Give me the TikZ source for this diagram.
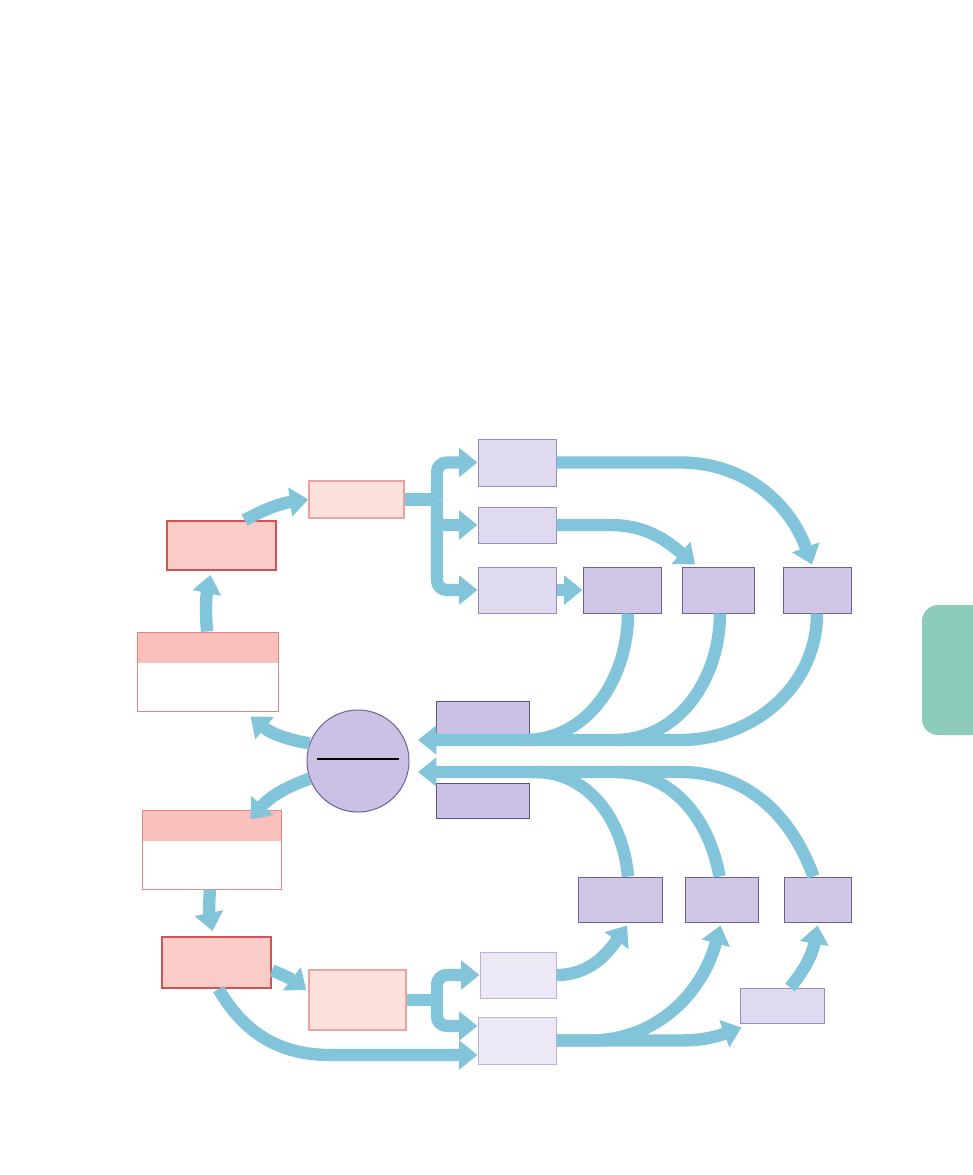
\documentclass[tikz,border=0pt]{standalone}
\usepackage{tikz}
\usepackage{xcolor}
\usetikzlibrary{arrows.meta,positioning,calc}
\definecolor{FlowBlue}{HTML}{82C4DA}
\definecolor{HeadFill}{HTML}{F9C0BC}
\definecolor{HeadEdge}{HTML}{E08880}
\definecolor{CycleFill}{HTML}{F9CCC8}
\definecolor{CycleEdge}{HTML}{D05454}
\definecolor{SoftFill}{HTML}{FCE0DC}
\definecolor{SoftEdge}{HTML}{E8A49C}
\definecolor{LavLight}{HTML}{E0DAF0}
\definecolor{LavLightEdge}{HTML}{9C8CBC}
\definecolor{LavMid}{HTML}{D0C6E6}
\definecolor{LavMidEdge}{HTML}{6E5E92}
\definecolor{LavDark}{HTML}{CBC1E5}
\definecolor{LavDarkEdge}{HTML}{5E4E86}
\definecolor{LavPale}{HTML}{ECE8F6}
\definecolor{LavPaleEdge}{HTML}{BDB2D6}
\definecolor{TabGreen}{HTML}{8DCBBB}

\begin{document}
\begin{tikzpicture}[x=0.025cm, y=0.025cm,
  box/.style={rectangle, inner sep=0pt, line width=0.7pt},
  headbox/.style={box, draw=HeadEdge, fill=white, minimum height=1.975cm,
                  path picture={\fill[HeadFill] (path picture bounding box.north west)
                    rectangle ([yshift=-0.775cm]path picture bounding box.north east);}},
  cyclebox/.style={box, draw=CycleEdge, fill=CycleFill, line width=1.4pt},
  softbox/.style={box, draw=SoftEdge, fill=SoftFill, line width=1pt},
  lightbox/.style={box, draw=LavLightEdge, fill=LavLight},
  midbox/.style={box, draw=LavMidEdge, fill=LavMid, minimum height=1.15cm},
  darkbox/.style={box, draw=LavDarkEdge, fill=LavDark, minimum width=2.325cm},
  palebox/.style={box, draw=LavPaleEdge, fill=LavPale},
  flowline/.style={draw=FlowBlue, line width=8.8pt},
  flow/.style={flowline, -{Triangle[length=13pt,width=20pt]}}
]
  \useasboundingbox (0,0) rectangle (972,-1175);
  \fill[TabGreen, rounded corners=0.4cm] (922,-605) rectangle (1000,-735);

  % upper cycle
  \node[headbox, minimum width=3.5cm] (l1) at (208,-671.5) {};
  \node[cyclebox, minimum width=2.725cm, minimum height=1.225cm] (b1) at (221.5,-545.5) {};
  \node[softbox, minimum width=2.375cm, minimum height=0.925cm] (c1) at (356.5,-499.5) {};
  \node[lightbox, minimum width=1.95cm, minimum height=1.175cm] (d1) at (517,-462.5) {};
  \node[lightbox, minimum width=1.95cm, minimum height=0.9cm] (d2) at (517,-525) {};
  \node[lightbox, minimum width=1.95cm, minimum height=1.15cm] (d3) at (517,-590) {};
  \node[midbox, minimum width=1.95cm] (e1) at (622,-590) {};
  \node[midbox, minimum width=1.8cm] (e2) at (718,-590) {};
  \node[midbox, minimum width=1.7cm] (e3) at (817,-590) {};

  % hub
  \node[circle, draw=LavMidEdge, fill=LavDark, line width=0.7pt, minimum size=2.55cm,
        inner sep=0pt] (hub) at (358,-761) {};
  \draw[line width=0.8pt] ($(hub.center)+(-41,2)$) -- ($(hub.center)+(41,2)$);
  \node[darkbox, minimum height=0.85cm] (f1) at (482.5,-718) {};
  \node[darkbox, minimum height=0.875cm] (f2) at (482.5,-800.5) {};

  % lower cycle
  \node[headbox, minimum width=3.45cm] (l2) at (212,-849.5) {};
  \node[cyclebox, minimum width=2.725cm, minimum height=1.275cm] (b2) at (216.5,-962.5) {};
  \node[softbox, minimum width=2.425cm, minimum height=1.5cm] (c2) at (357.5,-1000) {};
  \node[palebox, minimum width=1.9cm, minimum height=1.15cm] (g1) at (518,-975) {};
  \node[palebox, minimum width=1.95cm, minimum height=1.175cm] (g2) at (517,-1040.5) {};
  \node[midbox, minimum width=2.1cm, minimum height=1.125cm] (p1) at (620,-899.5) {};
  \node[midbox, minimum width=1.825cm, minimum height=1.125cm] (p2) at (721.5,-899.5) {};
  \node[midbox, minimum width=1.675cm, minimum height=1.125cm] (p3) at (817.5,-899.5) {};
  \node[lightbox, minimum width=2.1cm, minimum height=0.875cm] (h) at (782,-1005.5) {};

  \coordinate (split1) at (437,-499.5);
  \coordinate (split2) at (437,-1000);
  \coordinate (back1) at (418,-740);
  \coordinate (back2) at (418,-772);

  \draw[flow] ($(l1.north)+(-1,0)$) to[bend left=8] ($(b1.south)+(-11,-4)$);
  \draw[flow] ($(b1.north)+(23,0)$) to[bend left=10] (c1.west);
  \draw[flowline] (c1.east) -- (split1);
  \draw[flow, rounded corners=7pt] (split1) |- (d1.west);
  \draw[flow, rounded corners=7pt] (split1) |- (d3.west);
  \draw[flow] (split1 |- d2.west) -- (d2.west);
  \draw[flow] (d3.east) -- (e1.west);
  \draw[flow] (d2.east) -- (610,-525) to[out=0, in=140] ($(e2.north)+(-23,2)$);
  \draw[flow] (d1.east) -- (680,-462.5) to[out=0, in=110] ($(e3.north)+(-5,2)$);

  \draw[flowline] ($(e1.south)+(6,0)$) to[out=-90, in=0] (525,-740);
  \draw[flowline] ($(e2.south)+(2,0)$) to[out=-90, in=0] (615,-740);
  \draw[flow] (e3.south) to[out=-90, in=0] (680,-740) -- (back1);

  \draw[flowline] ($(p1.north)+(8,0)$) to[out=95, in=0] (535,-772);
  \draw[flowline] ($(p2.north)+(-2,0)$) to[out=100, in=0] (615,-772);
  \draw[flow] ($(p3.north)+(-4,0)$) to[out=110, in=0] (680,-772) -- (back2);

  \draw[flow] (hub.160) to[bend left=15] ($(l1.south east)+(-28,-5)$);
  \draw[flow] (hub.200) to[bend right=15] ($(l2.north east)+(-31,-10)$);

  \draw[flow] ($(l2.south)+(-2,0)$) to[bend right=8] ($(b2.north)+(-4,5)$);
  \draw[flow] ($(b2.east)+(0,-8)$) to[bend left=8] ($(c2.west)+(-2,10)$);
  \draw[flowline] (c2.east) -- (split2);
  \draw[flow, rounded corners=7pt] (split2) |- (g1.west);
  \draw[flow, rounded corners=7pt] (split2) |- ($(g2.west)+(0,14.5)$);
  \draw[flow] ($(b2.south)+(2,0)$) to[out=-60, in=180] (330,-1055) -- ($(g2.west)+(0,-14.5)$);

  \draw[flow] (g1.east) to[out=0, in=-125] ($(p1.south)+(7,-3)$);
  \draw[flow] (g2.east) -- (590,-1040.5) to[out=0, in=-105] ($(p2.south)+(-1,-3)$);
  \draw[flow] (g2.east) -- (680,-1040.5) to[out=0, in=200] ($(h.south west)+(2,-4)$);
  \draw[flow] ($(h.north)+(8,0)$) to[out=50, in=-100] ($(p3.south)+(0,-3)$);
\end{tikzpicture}
\end{document}
